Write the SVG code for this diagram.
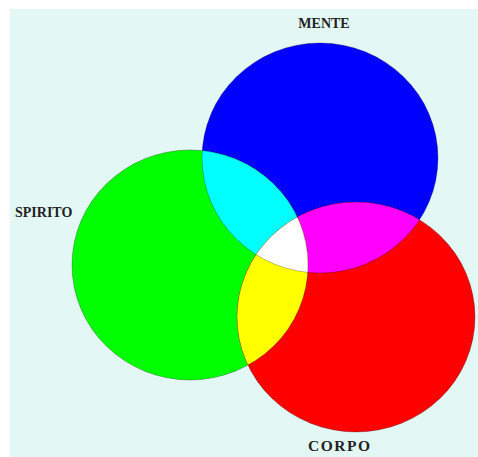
<svg xmlns="http://www.w3.org/2000/svg" width="478" height="457" viewBox="0 0 478 457">
<style>
.lbl{font-family:"Liberation Serif","Times New Roman",serif;font-weight:bold;font-size:14px;fill:#222;}
.edge{fill:none;stroke:#000;stroke-opacity:0.25;stroke-width:1;}
</style>
<defs>
<ellipse id="cB" cx="320" cy="158" rx="118" ry="115"/>
<ellipse id="cG" cx="190" cy="265" rx="118" ry="115"/>
<ellipse id="cR" cx="356" cy="317" rx="119" ry="115"/>
<clipPath id="clipB"><use href="#cB"/></clipPath>
<clipPath id="clipG"><use href="#cG"/></clipPath>
<clipPath id="clipR"><use href="#cR"/></clipPath>
</defs>
<rect x="0" y="0" width="478" height="457" fill="#ffffff"/>
<rect x="10" y="9" width="468" height="448" fill="#e3f7f5"/>
<g id="mente">
<use href="#cB" fill="#0000ff"/>
<text class="lbl" x="324" y="28" text-anchor="middle">MENTE</text>
</g>
<g id="spirito">
<use href="#cG" fill="#00ff00"/>
<text class="lbl" x="15" y="217">SPIRITO</text>
</g>
<g id="corpo">
<use href="#cR" fill="#ff0000"/>
<text class="lbl" x="308" y="451" style="font-size:15.5px" textLength="62" lengthAdjust="spacing">CORPO</text>
</g>
<g id="overlaps">
<g clip-path="url(#clipB)"><use href="#cG" fill="#00ffff"/></g>
<g clip-path="url(#clipB)"><use href="#cR" fill="#ff00ff"/></g>
<g clip-path="url(#clipG)"><use href="#cR" fill="#ffff00"/></g>
<g clip-path="url(#clipB)"><g clip-path="url(#clipG)"><use href="#cR" fill="#ffffff"/></g></g>
</g>
<g id="edges">
<use href="#cB" class="edge"/>
<use href="#cG" class="edge"/>
<use href="#cR" class="edge"/>
</g>
</svg>
